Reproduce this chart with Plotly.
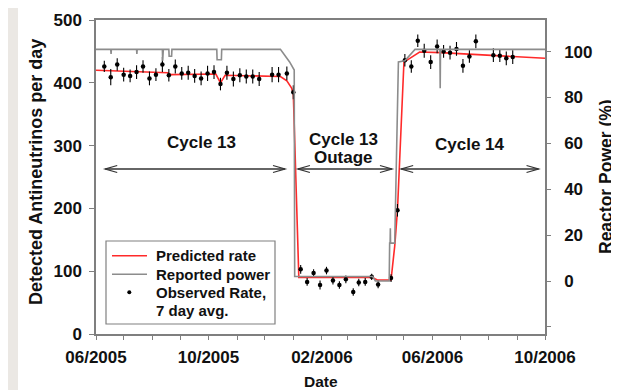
import plotly.graph_objects as go

# ---------------- data ----------------
obs_dates = [
    "2005-06-10", "2005-06-17", "2005-06-24", "2005-07-01", "2005-07-08", "2005-07-15",
    "2005-07-22", "2005-07-29", "2005-08-05", "2005-08-12", "2005-08-19", "2005-08-26",
    "2005-09-02", "2005-09-09", "2005-09-16", "2005-09-23", "2005-09-30", "2005-10-07",
    "2005-10-14", "2005-10-21", "2005-10-28", "2005-11-04", "2005-11-11", "2005-11-18",
    "2005-11-25", "2005-12-09", "2005-12-16", "2005-12-25", "2006-01-01",
    "2006-01-09", "2006-01-16", "2006-01-23", "2006-01-30", "2006-02-06", "2006-02-13",
    "2006-02-20", "2006-02-27", "2006-03-07", "2006-03-13", "2006-03-20", "2006-03-27",
    "2006-04-03", "2006-04-17", "2006-04-24",
    "2006-05-02", "2006-05-09", "2006-05-16", "2006-05-23", "2006-05-30", "2006-06-06",
    "2006-06-13", "2006-06-20", "2006-06-27", "2006-07-04", "2006-07-11", "2006-07-18",
    "2006-08-06", "2006-08-13", "2006-08-20", "2006-08-27",
]
obs_rate = [
    426, 409, 429, 413, 411, 417, 426, 407, 413, 429, 412, 426,
    415, 416, 411, 407, 415, 417, 398, 416, 406, 412, 410, 410,
    406, 413, 413, 415, 385,
    103, 83, 97, 78, 101, 85, 78, 87, 67, 82, 83, 91, 79, 89, 197,
    436, 426, 467, 451, 433, 458, 450, 448, 454, 427, 442, 466,
    444, 443, 439, 441,
]
obs_err = [
    9, 13, 10, 11, 10, 11, 10, 11, 10, 12, 10, 11,
    10, 11, 11, 11, 12, 11, 10, 11, 12, 11, 11, 11,
    11, 12, 12, 11, 11,
    7, 6, 6, 7, 6, 6, 6, 6, 6, 6, 6, 5, 6, 6, 10,
    10, 10, 10, 11, 11, 11, 10, 11, 11, 11, 10, 11,
    11, 10, 11, 11,
]

pred_dates = [
    "2005-06-01", "2005-08-18", "2005-08-21", "2005-10-09", "2005-10-14", "2005-10-19",
    "2005-12-18", "2005-12-25", "2005-12-30", "2006-01-01", "2006-01-07", "2006-03-28",
    "2006-04-02", "2006-04-17", "2006-04-21", "2006-04-24", "2006-05-01", "2006-05-06",
    "2006-05-11", "2006-05-18", "2006-06-10", "2006-10-01",
]
pred_rate = [
    420, 416, 413, 414, 400, 412,
    410, 403, 392, 383, 90, 90,
    86, 86, 140, 197, 433, 438,
    442, 449, 448, 439,
]

power_dates = [
    "2005-06-01", "2005-06-17", "2005-06-17 08:00", "2005-06-17 16:00",
    "2005-07-15", "2005-07-15 08:00", "2005-07-15 16:00",
    "2005-08-12", "2005-08-12 08:00", "2005-08-13",
    "2005-08-19", "2005-08-19 08:00", "2005-08-22", "2005-08-22 08:00",
    "2005-10-10", "2005-10-10 08:00", "2005-10-15", "2005-10-15 08:00",
    "2005-12-18", "2005-12-28", "2006-01-02", "2006-01-02 12:00",
    "2006-03-28", "2006-03-31", "2006-04-15", "2006-04-15 12:00",
    "2006-04-16", "2006-04-16 06:00", "2006-04-16 12:00", "2006-04-21",
    "2006-04-25", "2006-05-02", "2006-05-13",
    "2006-06-09", "2006-06-09 08:00", "2006-06-09 16:00", "2006-10-01",
]
power_pct = [
    101, 101, 99, 101,
    101, 99, 101,
    101, 96, 101,
    101, 98, 98, 101,
    101, 96.5, 96.5, 101,
    101, 95.5, 92, 2,
    2, 0, 0, 16.5,
    16.5, 23, 16.5, 16.5,
    95.5, 96, 101,
    101, 84, 101, 101,
]

month_ticks = [
    "2005-06-01", "2005-07-01", "2005-08-01", "2005-09-01", "2005-10-01", "2005-11-01",
    "2005-12-01", "2006-01-01", "2006-02-01", "2006-03-01", "2006-04-01", "2006-05-01",
    "2006-06-01", "2006-07-01", "2006-08-01", "2006-09-01", "2006-10-01",
]
month_labels = [
    "06/2005", "", "", "", "10/2005", "", "", "", "02/2006", "", "", "",
    "06/2006", "", "", "", "10/2006",
]

left_ticks = [0, 100, 200, 300, 400, 500]
right_ticks = [-20, 0, 20, 40, 60, 80, 100]
right_labels = ["", "0", "20", "40", "60", "80", "100"]

cycle_labels = ["Cycle 13", "Cycle 13", "Outage", "Cycle 14"]
cycle_label_x = ["2005-09-23", "2006-02-24", "2006-02-24", "2006-07-12"]
cycle_label_ypx = [142, 139.5, 157.5, 144]
cycle_spans = [("2005-06-11", "2005-12-23"), ("2006-01-06", "2006-04-18"),
               ("2006-04-28", "2006-09-24")]

legend_names = ["Predicted rate", "Reported power", "Observed Rate,", "7 day avg."]

# ---------------- figure ----------------
FONT = "Liberation Sans, Arial, sans-serif"
TXT = "#111111"
AX = "#7f7f7f"
RED = "#ff2a2a"
GRAY = "#8c8c8c"

# The page body has an 8px margin, so the figure sits at (8, 8) in the window.
OFF = 8
FIG_W, FIG_H = 619 - OFF, 390 - OFF
# plot area in window pixels: x 96..545, y 20..334
L, R, T, B = 96, 545, 20, 334
W, H = R - L, B - T


def px(x):  # window pixel -> paper x
    return (x - L) / W


def py(y):  # window pixel -> paper y
    return (B - y) / H


fig = go.Figure()

fig.add_trace(go.Scatter(
    x=power_dates, y=power_pct, yaxis="y2", mode="lines",
    line=dict(color=GRAY, width=1.6), name="Reported power",
))
fig.add_trace(go.Scatter(
    x=pred_dates, y=pred_rate, mode="lines",
    line=dict(color=RED, width=1.6), name="Predicted rate",
))
fig.add_trace(go.Scatter(
    x=obs_dates, y=obs_rate, mode="markers",
    marker=dict(color="#000000", size=4.5),
    error_y=dict(type="data", array=obs_err, color="#000000", thickness=1.1, width=0),
    name="Observed Rate, 7 day avg.",
))

fig.update_layout(
    width=FIG_W, height=FIG_H,
    margin=dict(l=L - OFF, r=FIG_W - (R - OFF), t=T - OFF, b=FIG_H - (B - OFF)),
    paper_bgcolor="white", plot_bgcolor="white",
    font=dict(family=FONT, color=TXT, size=15, weight="bold"),
    showlegend=False,
    xaxis=dict(
        type="date", range=["2005-06-01", "2006-10-01"], automargin=False,
        tickmode="array", tickvals=month_ticks, ticktext=month_labels,
        ticks="outside", ticklen=4, tickcolor=AX, tickwidth=1.3, ticklabelstandoff=3,
        showline=True, linecolor=AX, linewidth=1.5, mirror=True,
        showgrid=False, zeroline=False,
        tickfont=dict(family=FONT, size=17, color=TXT, weight="bold"),
    ),
    yaxis=dict(
        range=[0, 500], tickmode="array", tickvals=left_ticks, automargin=False,
        ticks="outside", ticklen=5, tickcolor=AX, tickwidth=1.3, ticklabelstandoff=4,
        showline=True, linecolor=AX, linewidth=1.5,
        showgrid=False, zeroline=False,
        tickfont=dict(family=FONT, size=17, color=TXT, weight="bold"),
    ),
    yaxis2=dict(
        range=[-23.1, 113.8], overlaying="y", side="right", anchor="x", automargin=False,
        tickmode="array", tickvals=right_ticks, ticktext=right_labels,
        ticks="outside", ticklen=4, tickcolor=AX, tickwidth=1.3, ticklabelstandoff=10,
        showline=True, linecolor=AX, linewidth=1.5,
        showgrid=False, zeroline=False,
        tickfont=dict(family=FONT, size=17, color=TXT, weight="bold"),
    ),
)

# axis titles
fig.add_annotation(xref="paper", yref="paper", x=px(320.5), y=py(370.5), text="Date",
                   xanchor="center", yanchor="top", showarrow=False,
                   font=dict(family=FONT, size=15.5, color=TXT, weight="bold"))
fig.add_annotation(xref="paper", yref="paper", x=px(36.5), y=py(172.5),
                   xanchor="center", yanchor="middle",
                   text="Detected Antineutrinos per day", textangle=-90, showarrow=False,
                   font=dict(family=FONT, size=18, color=TXT, weight="bold"))
fig.add_annotation(xref="paper", yref="paper", x=px(606), y=py(177),
                   xanchor="center", yanchor="middle",
                   text="Reactor Power (%)", textangle=-90, showarrow=False,
                   font=dict(family=FONT, size=17.5, color=TXT, weight="bold"))

# textured strip on the far left of the page
fig.add_shape(type="rect", xref="paper", yref="paper",
              x0=px(OFF), x1=px(18), y0=py(390), y1=py(OFF),
              fillcolor="#ebe8e4", line=dict(width=0), layer="below")

# cycle labels
for txt, lx, ly in zip(cycle_labels, cycle_label_x, cycle_label_ypx):
    fig.add_annotation(x=lx, y=py(ly), xref="x", yref="paper", text=txt,
                       showarrow=False, xanchor="center", yanchor="middle",
                       font=dict(family=FONT, size=17, color=TXT, weight="bold"))

# double-headed arrows
arrow_y = py(169)
for a, b in cycle_spans:
    fig.add_shape(type="line", xref="x", yref="paper", x0=a, x1=b, y0=arrow_y, y1=arrow_y,
                  line=dict(color="#333333", width=1.3))
    fig.add_shape(type="path", xref="x", yref="paper", xsizemode="pixel", ysizemode="pixel",
                  xanchor=a, yanchor=arrow_y, path="M 12,3.5 L 0,0 L 12,-3.5",
                  line=dict(color="#333333", width=1.3))
    fig.add_shape(type="path", xref="x", yref="paper", xsizemode="pixel", ysizemode="pixel",
                  xanchor=b, yanchor=arrow_y, path="M -12,3.5 L 0,0 L -12,-3.5",
                  line=dict(color="#333333", width=1.3))

# legend (drawn as a boxed key)
fig.add_shape(type="rect", xref="paper", yref="paper",
              x0=px(106), x1=px(275), y0=py(324), y1=py(241),
              fillcolor="white", line=dict(color="#808080", width=1.2))
fig.add_shape(type="line", xref="paper", yref="paper",
              x0=px(112), x1=px(147), y0=py(255.7), y1=py(255.7),
              line=dict(color=RED, width=1.6))
fig.add_shape(type="line", xref="paper", yref="paper",
              x0=px(112), x1=px(147), y0=py(274.3), y1=py(274.3),
              line=dict(color=GRAY, width=1.6))
fig.add_shape(type="circle", xref="paper", yref="paper",
              x0=px(127.3), x1=px(131.3), y0=py(294.2), y1=py(290.2),
              fillcolor="#000000", line=dict(width=0))
for name, ly in zip(legend_names, [255.7, 274.3, 292.7, 310.5]):
    fig.add_annotation(xref="paper", yref="paper", x=px(154), y=py(ly), text=name,
                       xanchor="left", yanchor="middle", showarrow=False,
                       font=dict(family=FONT, size=15, color=TXT, weight="bold"))

fig.write_html("out.html")
